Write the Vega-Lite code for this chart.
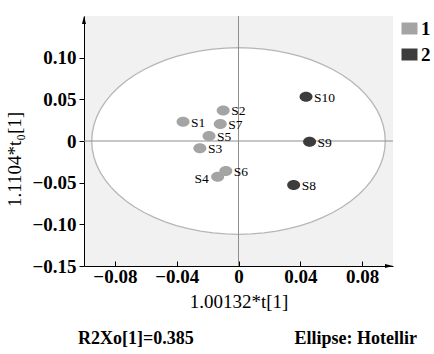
{
  "$schema": "https://vega.github.io/schema/vega-lite/v6.json",
  "width": 309,
  "height": 250,
  "autosize": {"type": "none"},
  "padding": {"left": 84, "top": 16, "right": 41, "bottom": 88},
  "background": "white",
  "config": {
    "view": {"fill": "#f1f1f1", "stroke": null},
    "font": "Liberation Serif"
  },
  "datasets": {
    "ellipse": [
      {"x": 0.095, "y": 0, "y2": 0},
      {"x": 0.09464, "y": 0.00976, "y2": -0.00976},
      {"x": 0.09356, "y": 0.01945, "y2": -0.01945},
      {"x": 0.09176, "y": 0.02899, "y2": -0.02899},
      {"x": 0.08927, "y": 0.03831, "y2": -0.03831},
      {"x": 0.0861, "y": 0.04733, "y2": -0.04733},
      {"x": 0.08227, "y": 0.056, "y2": -0.056},
      {"x": 0.07782, "y": 0.06424, "y2": -0.06424},
      {"x": 0.07277, "y": 0.07199, "y2": -0.07199},
      {"x": 0.06718, "y": 0.0792, "y2": -0.0792},
      {"x": 0.06107, "y": 0.0858, "y2": -0.0858},
      {"x": 0.05449, "y": 0.09174, "y2": -0.09174},
      {"x": 0.0475, "y": 0.097, "y2": -0.097},
      {"x": 0.04015, "y": 0.10151, "y2": -0.10151},
      {"x": 0.03249, "y": 0.10525, "y2": -0.10525},
      {"x": 0.02459, "y": 0.10818, "y2": -0.10818},
      {"x": 0.0165, "y": 0.1103, "y2": -0.1103},
      {"x": 0.00828, "y": 0.11157, "y2": -0.11157},
      {"x": 0, "y": 0.112, "y2": -0.112},
      {"x": -0.00828, "y": 0.11157, "y2": -0.11157},
      {"x": -0.0165, "y": 0.1103, "y2": -0.1103},
      {"x": -0.02459, "y": 0.10818, "y2": -0.10818},
      {"x": -0.03249, "y": 0.10525, "y2": -0.10525},
      {"x": -0.04015, "y": 0.10151, "y2": -0.10151},
      {"x": -0.0475, "y": 0.097, "y2": -0.097},
      {"x": -0.05449, "y": 0.09174, "y2": -0.09174},
      {"x": -0.06107, "y": 0.0858, "y2": -0.0858},
      {"x": -0.06718, "y": 0.0792, "y2": -0.0792},
      {"x": -0.07277, "y": 0.07199, "y2": -0.07199},
      {"x": -0.07782, "y": 0.06424, "y2": -0.06424},
      {"x": -0.08227, "y": 0.056, "y2": -0.056},
      {"x": -0.0861, "y": 0.04733, "y2": -0.04733},
      {"x": -0.08927, "y": 0.03831, "y2": -0.03831},
      {"x": -0.09176, "y": 0.02899, "y2": -0.02899},
      {"x": -0.09356, "y": 0.01945, "y2": -0.01945},
      {"x": -0.09464, "y": 0.00976, "y2": -0.00976},
      {"x": -0.095, "y": 0, "y2": 0}
    ],
    "samples": [
      {"label": "S1", "group": "1", "x": -0.0359, "y": 0.0232},
      {"label": "S2", "group": "1", "x": -0.0099, "y": 0.0367},
      {"label": "S3", "group": "1", "x": -0.025, "y": -0.0088},
      {"label": "S4", "group": "1", "x": -0.0135, "y": -0.0429},
      {"label": "S5", "group": "1", "x": -0.0191, "y": 0.006},
      {"label": "S6", "group": "1", "x": -0.0082, "y": -0.036},
      {"label": "S7", "group": "1", "x": -0.0118, "y": 0.0205},
      {"label": "S8", "group": "2", "x": 0.0357, "y": -0.0529},
      {"label": "S9", "group": "2", "x": 0.046, "y": -0.001},
      {"label": "S10", "group": "2", "x": 0.0437, "y": 0.0532}
    ],
    "notes": [
      {"text": "R2Xo[1]=0.385", "x": -0.1039, "y": -0.2376, "side": "left"},
      {"text": "Ellipse: Hotellir", "x": 0.1155, "y": -0.2376, "side": "right"}
    ],
    "origin": [{"x": 0, "y": 0}],
    "corners": [{"x": -0.1, "y": 0.15, "dir": "up"}, {"x": 0.1, "y": -0.15, "dir": "right"}]
  },
  "layer": [
    {
      "data": {"name": "ellipse"},
      "mark": {"type": "area", "fill": "white", "stroke": "#b6b6b6", "strokeWidth": 1.3, "orient": "vertical"},
      "encoding": {
        "x": {
          "field": "x", "type": "quantitative",
          "scale": {"domain": [-0.1, 0.1], "nice": false, "zero": false},
          "axis": {
            "title": "1.00132*t[1]",
            "values": [-0.08, -0.06, -0.04, -0.02, 0, 0.02, 0.04, 0.06, 0.08],
            "labelExpr": "abs(round(datum.value*100)) % 4 == 0 ? (datum.value == 0 ? '0' : format(datum.value, '.2f')) : ''",
            "grid": false,
            "domainColor": "#000000",
            "domainWidth": 1,
            "tickColor": "#000000",
            "tickSize": -5,
            "labelPadding": 6,
            "labelFont": "Liberation Serif",
            "labelFontSize": 19,
            "labelFontWeight": "bold",
            "labelColor": "#000000",
            "labelFlush": false,
            "labelOverlap": false,
            "titleFont": "Liberation Serif",
            "titleFontSize": 19,
            "titleFontWeight": "normal",
            "titleColor": "#000000",
            "titleX": 154.5,
            "titleY": 45,
            "titleBaseline": "bottom",
            "titleAlign": "center"
          }
        },
        "y": {
          "field": "y", "type": "quantitative",
          "scale": {"domain": [-0.15, 0.15], "nice": false, "zero": false},
          "axis": {
            "title": "1.1104*t₀[1]",
            "values": [-0.15, -0.1, -0.05, 0, 0.05, 0.1],
            "labelExpr": "datum.value == 0 ? '0' : format(datum.value, '.2f')",
            "grid": false,
            "domainColor": "#000000",
            "domainWidth": 1,
            "tickColor": "#000000",
            "tickSize": 5,
            "labelPadding": 3,
            "labelFont": "Liberation Serif",
            "labelFontSize": 19,
            "labelFontWeight": "bold",
            "labelColor": "#000000",
            "labelFlush": false,
            "labelOverlap": false,
            "titleFont": "Liberation Serif",
            "titleFontSize": 19,
            "titleFontWeight": "normal",
            "titleColor": "#000000",
            "titleAngle": -90,
            "titleX": -70,
            "titleY": 143,
            "titleBaseline": "middle",
            "titleAlign": "center"
          }
        },
        "y2": {"field": "y2"}
      }
    },
    {
      "data": {"name": "origin"},
      "mark": {"type": "rule", "color": "#8e8e8e", "strokeWidth": 1},
      "encoding": {"x": {"field": "x", "type": "quantitative", "scale": {"domain": [-0.1, 0.1], "nice": false, "zero": false}}}
    },
    {
      "data": {"name": "origin"},
      "mark": {"type": "rule", "color": "#8e8e8e", "strokeWidth": 1},
      "encoding": {"y": {"field": "y", "type": "quantitative", "scale": {"domain": [-0.15, 0.15], "nice": false, "zero": false}}}
    },
    {
      "data": {"name": "samples"},
      "mark": {"type": "point", "filled": true, "opacity": 1, "shape": "M-1,0A1,0.77,0,1,1,1,0A1,0.77,0,1,1,-1,0Z", "size": 169},
      "encoding": {
        "x": {"field": "x", "type": "quantitative", "scale": {"domain": [-0.1, 0.1], "nice": false, "zero": false}},
        "y": {"field": "y", "type": "quantitative", "scale": {"domain": [-0.15, 0.15], "nice": false, "zero": false}},
        "color": {
          "field": "group", "type": "nominal",
          "scale": {"domain": ["1", "2"], "range": ["#a4a4a4", "#3c3c3c"]},
          "legend": {
            "title": null,
            "orient": "none",
            "legendX": 316,
            "legendY": 3,
            "padding": 0,
            "symbolType": "M-1,-0.75H1V0.75H-1Z",
            "symbolSize": 256,
            "symbolOpacity": 1,
            "symbolStrokeWidth": 0,
            "rowPadding": 6,
            "labelFont": "Liberation Serif",
            "labelFontSize": 19,
            "labelFontWeight": "bold",
            "labelColor": "#000000",
            "labelOffset": 2
          }
        }
      }
    },
    {
      "data": {"name": "samples"},
      "transform": [{"filter": "datum.label != 'S4'"}],
      "mark": {"type": "text", "align": "left", "baseline": "middle", "dx": 8, "dy": 1, "font": "Liberation Serif", "fontSize": 13.5, "color": "#000000"},
      "encoding": {
        "x": {"field": "x", "type": "quantitative", "scale": {"domain": [-0.1, 0.1], "nice": false, "zero": false}},
        "y": {"field": "y", "type": "quantitative", "scale": {"domain": [-0.15, 0.15], "nice": false, "zero": false}},
        "text": {"field": "label"}
      }
    },
    {
      "data": {"name": "samples"},
      "transform": [{"filter": "datum.label == 'S4'"}],
      "mark": {"type": "text", "align": "right", "baseline": "middle", "dx": -9, "dy": 2, "font": "Liberation Serif", "fontSize": 13.5, "color": "#000000"},
      "encoding": {
        "x": {"field": "x", "type": "quantitative", "scale": {"domain": [-0.1, 0.1], "nice": false, "zero": false}},
        "y": {"field": "y", "type": "quantitative", "scale": {"domain": [-0.15, 0.15], "nice": false, "zero": false}},
        "text": {"field": "label"}
      }
    },
    {
      "data": {"name": "corners"},
      "transform": [{"filter": "datum.dir == 'up'"}],
      "mark": {"type": "point", "filled": true, "opacity": 1, "color": "#000000", "shape": "M0,0L-1,4L1,4Z", "size": 16},
      "encoding": {
        "x": {"field": "x", "type": "quantitative", "scale": {"domain": [-0.1, 0.1], "nice": false, "zero": false}},
        "y": {"field": "y", "type": "quantitative", "scale": {"domain": [-0.15, 0.15], "nice": false, "zero": false}}
      }
    },
    {
      "data": {"name": "corners"},
      "transform": [{"filter": "datum.dir == 'right'"}],
      "mark": {"type": "point", "filled": true, "opacity": 1, "color": "#000000", "shape": "M0,0L-4,-1L-4,1Z", "size": 16},
      "encoding": {
        "x": {"field": "x", "type": "quantitative", "scale": {"domain": [-0.1, 0.1], "nice": false, "zero": false}},
        "y": {"field": "y", "type": "quantitative", "scale": {"domain": [-0.15, 0.15], "nice": false, "zero": false}}
      }
    },
    {
      "data": {"name": "notes"},
      "transform": [{"filter": "datum.side == 'left'"}],
      "mark": {"type": "text", "align": "left", "baseline": "middle", "font": "Liberation Serif", "fontSize": 18, "fontWeight": "bold", "color": "#000000"},
      "encoding": {
        "x": {"field": "x", "type": "quantitative", "scale": {"domain": [-0.1, 0.1], "nice": false, "zero": false}},
        "y": {"field": "y", "type": "quantitative", "scale": {"domain": [-0.15, 0.15], "nice": false, "zero": false}},
        "text": {"field": "text"}
      }
    },
    {
      "data": {"name": "notes"},
      "transform": [{"filter": "datum.side == 'right'"}],
      "mark": {"type": "text", "align": "right", "baseline": "middle", "font": "Liberation Serif", "fontSize": 18, "fontWeight": "bold", "color": "#000000"},
      "encoding": {
        "x": {"field": "x", "type": "quantitative", "scale": {"domain": [-0.1, 0.1], "nice": false, "zero": false}},
        "y": {"field": "y", "type": "quantitative", "scale": {"domain": [-0.15, 0.15], "nice": false, "zero": false}},
        "text": {"field": "text"}
      }
    }
  ]
}
